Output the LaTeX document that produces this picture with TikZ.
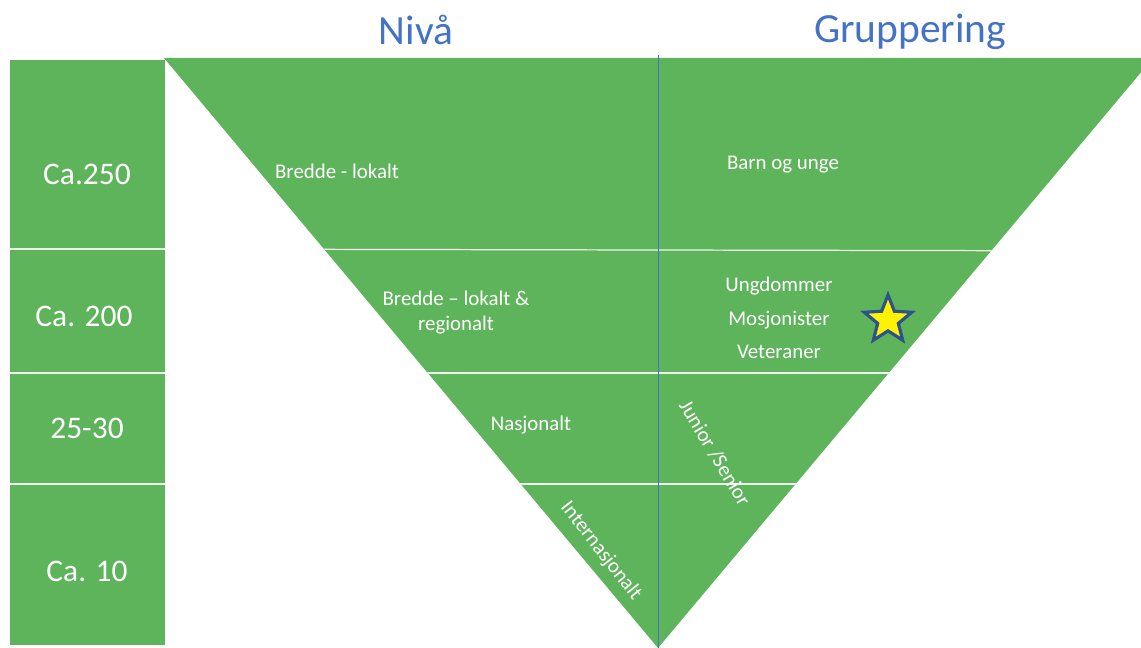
\documentclass[tikz,border=0pt]{standalone}
\usepackage{fontspec}
\setmainfont{Carlito}
\usetikzlibrary{calc, positioning}
\usetikzlibrary{shapes.geometric}

\definecolor{levelgreen}{RGB}{94,180,91}
\definecolor{headblue}{RGB}{68,114,196}
\definecolor{stardark}{RGB}{47,82,143}

\tikzset{
    head/.style={text=headblue, font=\fontsize{23.6}{28}\selectfont, anchor=base},
    count/.style={text=white, font=\fontsize{17.9}{21}\selectfont},
    tier/.style={text=white, font=\fontsize{11.9}{14.2}\selectfont, align=center, inner sep=0pt},
    divider/.style={white, line width=0.7pt, opacity=0.9}
}

\begin{document}
\begin{tikzpicture}[
    x={(0.02cm,0cm)},
    y={(0cm,-0.02cm)}
]
\useasboundingbox (0,0) rectangle (1141,648);
\clip (0,0) rectangle (1141,648);

% Column with the numbers
\fill[levelgreen] (10,60) rectangle (165,645);
\foreach \y in {249,373,484}
    \draw[divider] (10,\y) -- (165,\y);

\node[count] (c250) at (87,174) {Ca.250};
\node[count] (c200) at (84,316) {Ca. 200};
\node[count] (c30)  at (87,428) {25-30};
\node[count] (c10)  at (87,571) {Ca. 10};

% Inverted triangle
\coordinate (TL) at (164,58);
\coordinate (TR) at (1153,58);
\coordinate (apex) at (658,648);

\fill[levelgreen] (TL) -- (TR) -- (apex) -- cycle;
\begin{scope}
    \clip (TL) -- (TR) -- (apex) -- cycle;
    \draw[divider] (150,249) -- (1160,251);
    \draw[divider] (150,373) -- (1160,373);
    \draw[divider] (150,484) -- (1160,484);
\end{scope}
\draw[headblue, line width=0.5pt] (658,55) -- (apex);

% Headings
\node[head] (niva)  at (416,45) {Nivå};
\node[head] (grupp) at (910,43) {Gruppering};

% Left half: levels
\node[tier] (lokalt)   at (337,171) {Bredde - lokalt};
\node[tier] (regional) at (456,313) {Bredde – lokalt \&\\regionalt};
\node[tier] (nasjonal) at (531,425) {Nasjonalt};
\node[tier, rotate=-52] (intl) at (601,551) {Internasjonalt};

% Right half: groups
\node[tier] (barn) at (783,165) {Barn og unge};
\node[tier, font=\fontsize{11.9}{19}\selectfont] (grupper) at (779,318)
    {Ungdommer\\Mosjonister\\Veteraner};
\node[tier, rotate=-59] (junior) at (715,453) {Junior /Senior};

\node[star, star points=5, star point ratio=2.3, fill=yellow, draw=stardark,
      line width=1.8pt, minimum size=1.0cm, inner sep=0pt] (star) at (888,320) {};
\end{tikzpicture}
\end{document}
